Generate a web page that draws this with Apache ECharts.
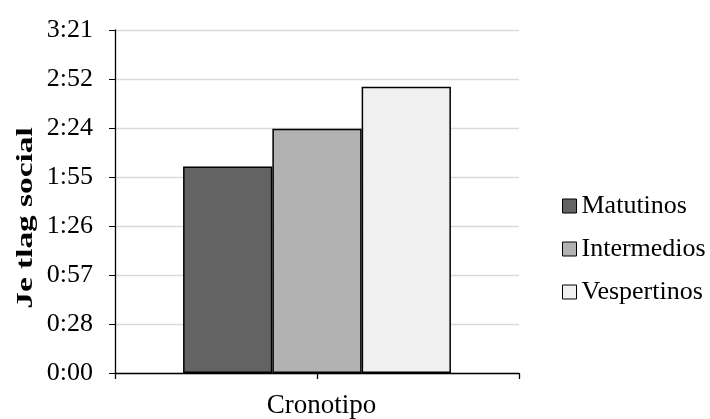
<!DOCTYPE html>
<html>
<head>
<meta charset="utf-8">
<script src="https://cdn.jsdelivr.net/npm/echarts@6/dist/echarts.min.js"></script>
<style>
  html, body { margin: 0; padding: 0; background: #fff; }
  #chart { width: 710px; height: 419px; }
</style>
</head>
<body>
<div id="chart"></div>
<script>
// Social jet lag by chronotype, in minutes (axis shown as h:mm)
const categories = ['Cronotipo'];
const seriesNames = ['Matutinos', 'Intermedios', 'Vespertinos'];
const matutinos = [121.3];
const intermedios = [143.5];
const vespertinos = [168.3];
const yTickLabels = ['0:00', '0:28', '0:57', '1:26', '1:55', '2:24', '2:52', '3:21'];
const yTitle = 'Je tlag social';
const yStep = 28.8; // minutes between ticks (0.02 day)

const colors = ['#636363', '#b2b2b2', '#f0f0f0'];
const serif = '"Liberation Serif", "Times New Roman", serif';

const chart = echarts.init(document.getElementById('chart'), null, { renderer: 'canvas' });

const values = [matutinos, intermedios, vespertinos];

chart.setOption({
  animation: false,
  backgroundColor: '#ffffff',
  grid: { left: 115, right: 191, top: 30, bottom: 46, containLabel: false },
  // vertical axis title, stretched along its reading direction
  graphic: [{
    type: 'text',
    x: 26,
    y: 218,
    rotation: Math.PI / 2,
    scaleX: 1.45,
    style: {
      text: yTitle,
      font: 'bold 23px ' + serif,
      fill: '#000',
      textAlign: 'center',
      textVerticalAlign: 'middle'
    }
  }],
  legend: {
    orient: 'vertical',
    left: 557,
    top: 188,
    itemWidth: 14,
    itemHeight: 14,
    itemGap: 17,
    icon: 'rect',
    textStyle: { fontFamily: serif, fontSize: 26, color: '#000' },
    data: seriesNames.map((n, i) => ({
      name: n,
      itemStyle: { color: colors[i], borderColor: '#000', borderWidth: 1 }
    }))
  },
  xAxis: [
    {
      type: 'category',
      data: categories,
      axisLine: { lineStyle: { color: '#000', width: 1.3 } },
      axisTick: { show: true, length: 6, lineStyle: { color: '#000' } },
      axisLabel: { fontFamily: serif, fontSize: 27, color: '#000', margin: 19, padding: [0, 0, 0, 9] }
    },
    {
      // extra axis used only for the tick marks at the ends and centre
      type: 'value',
      position: 'bottom',
      min: 0, max: 2, interval: 1,
      axisLine: { show: false },
      axisTick: { show: true, length: 6, lineStyle: { color: '#000', width: 1.3 } },
      axisLabel: { show: false },
      splitLine: { show: false }
    }
  ],
  yAxis: {
    type: 'value',
    min: 0,
    max: yStep * 7,
    interval: yStep,
    axisLine: { show: true, lineStyle: { color: '#000', width: 1.3 } },
    axisTick: { show: true, length: 6, lineStyle: { color: '#000' } },
    axisLabel: {
      fontFamily: serif, fontSize: 26, color: '#000', margin: 22,
      formatter: v => yTickLabels[Math.round(v / yStep)]
    },
    splitLine: { lineStyle: { color: '#d9d9d9', width: 1.3 } }
  },
  series: seriesNames.map((n, i) => ({
    name: n,
    type: 'bar',
    xAxisIndex: 0,
    data: values[i],
    barGap: '0%',
    barCategoryGap: '33.7%',
    itemStyle: { color: colors[i], borderColor: '#000', borderWidth: 1.5 }
  }))
});
</script>
</body>
</html>
